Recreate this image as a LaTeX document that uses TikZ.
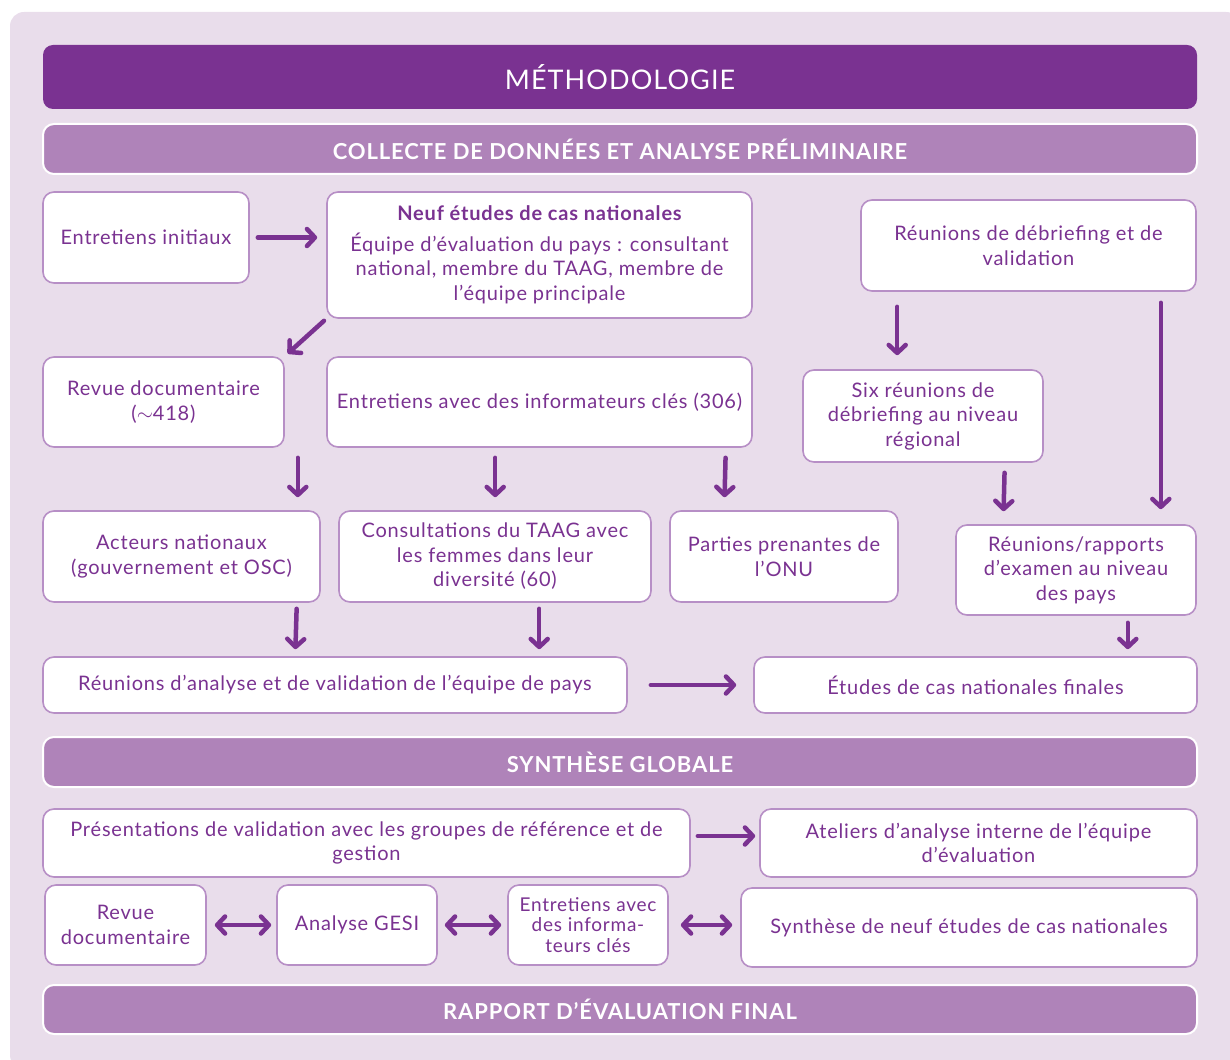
\documentclass[tikz,border=0pt]{standalone}
\usepackage{fontspec}
\setmainfont{Lato}[LetterSpace=4]
\usetikzlibrary{arrows.meta,calc}
\definecolor{violetfonce}{HTML}{7A3291}
\definecolor{violetbar}{HTML}{AF83B9}
\definecolor{violetbord}{HTML}{B78FC6}
\definecolor{fondlilas}{HTML}{E9DDEB}
\tikzset{
  boite/.style={draw=violetbord, line width=1.6pt, fill=white, rounded corners=11pt,
    text=violetfonce, align=center, inner sep=0pt,
    font=\fontsize{20}{24.5}\selectfont},
  bandeau/.style={draw=white, line width=2pt, fill=violetbar, rounded corners=11pt,
    text=white, align=center, minimum width=1154, minimum height=50,
    font=\fontsize{22}{26}\selectfont\bfseries},
  fleche/.style={draw=violetfonce, line width=4.5pt, line cap=round,
    -{Straight Barb[length=8pt,width=17pt,line cap=round,line join=round]}},
  double fleche/.style={fleche, {Straight Barb[length=8pt,width=17pt,line cap=round,line join=round]}-{Straight Barb[length=8pt,width=17pt,line cap=round,line join=round]}}
}
\begin{document}
\begin{tikzpicture}[x=1pt,y=-1pt]
\useasboundingbox (0,0) rectangle (1230,1059);
\fill[fondlilas, rounded corners=14pt] (10,12) rectangle (1240,1069);

% titre et bandeaux
\node[fill=violetfonce, rounded corners=10pt, text=white, minimum width=1154,
  minimum height=64, font=\fontsize{27}{30}\selectfont] (titre) at (620,77) {MÉTHODOLOGIE};
\node[bandeau] (collecte) at (620,149) {COLLECTE DE DONNÉES ET ANALYSE PRÉLIMINAIRE};
\node[bandeau] (synthese) at (620,762) {SYNTHÈSE GLOBALE};
\node[bandeau, minimum height=49] (rapport) at (620,1009.5) {RAPPORT D’ÉVALUATION FINAL};

% collecte
\node[boite, minimum width=206, minimum height=91] (initiaux) at (146,237.5) {Entretiens initiaux};
\node[boite, minimum width=425, minimum height=126] (neuf) at (539.5,255)
  {{\bfseries Neuf études de cas nationales}\\[6pt]Équipe d’évaluation du pays : consultant\\national, membre du TAAG, membre de\\l’équipe principale};
\node[boite, minimum width=335, minimum height=91] (debrief) at (1028.5,245.5) {Réunions de débriefing et de\\validation};
\node[boite, minimum width=241, minimum height=90] (revue) at (163.5,402) {Revue documentaire\\($\sim$418)};
\node[boite, minimum width=425, minimum height=90] (informateurs) at (539.5,402) {Entretiens avec des informateurs clés (306)};
\node[boite, minimum width=240, minimum height=92] (six) at (923,416) {Six réunions de\\débriefing au niveau\\régional};
\node[boite, minimum width=277, minimum height=91] (acteurs) at (181.5,556.5) {Acteurs nationaux\\(gouvernement et OSC)};
\node[boite, minimum width=312, minimum height=91] (consult) at (495,556.5) {Consultations du TAAG avec\\les femmes dans leur\\diversité (60)};
\node[boite, minimum width=228, minimum height=91] (onu) at (784,556.5) {Parties prenantes de\\l’ONU};
\node[boite, minimum width=240, minimum height=90] (pays) at (1076,570) {Réunions/rapports\\d’examen au niveau\\des pays};
\node[boite, minimum width=584, minimum height=56] (validpays) at (335,685) {Réunions d’analyse et de validation de l’équipe de pays};
\node[boite, minimum width=443, minimum height=56] (finales) at (975.5,685) {Études de cas nationales finales};

% synthese
\node[boite, minimum width=647, minimum height=68] (presentations) at (366.5,843) {Présentations de validation avec les groupes de référence et de\\gestion};
\node[boite, minimum width=437, minimum height=68] (ateliers) at (978.5,843) {Ateliers d’analyse interne de l’équipe\\d’évaluation};
\node[boite, minimum width=161, minimum height=80] (revuedoc) at (125.5,925) {Revue\\documentaire};
\node[boite, minimum width=160, minimum height=80] (gesi) at (357,925) {Analyse GESI};
\node[boite, minimum width=160, minimum height=80, font=\fontsize{19}{20.5}\selectfont] (cles) at (588,925) {Entretiens avec\\des informa-\\teurs clés};
\node[boite, minimum width=456, minimum height=79] (neufsynth) at (969,927.5) {Synthèse de neuf études de cas nationales};

% fleches
\draw[fleche, shorten <=8pt, shorten >=9pt] (initiaux.east) -- (initiaux.east -| neuf.west);
\draw[fleche, shorten <=3pt, shorten >=4pt] (neuf.south west) -- (revue.north east);
\draw[fleche, shorten <=15pt, shorten >=14pt] ($(debrief.south west)+(37,0)$) -- ($(six.north west)+(95,0)$);
\draw[fleche, shorten <=11pt, shorten >=15pt] ($(debrief.south east)+(-36,0)$) -- ($(pays.north east)+(-36,0)$);
\draw[fleche, shorten <=10pt, shorten >=13pt] ($(revue.south east)+(13,0)$) -- ($(acteurs.north east)+(-23,0)$);
\draw[fleche, shorten <=10pt, shorten >=13pt] ($(informateurs.south west)+(169,0)$) -- ($(consult.north west)+(157,0)$);
\draw[fleche, shorten <=10pt, shorten >=13pt] ($(informateurs.south east)+(-27,0)$) -- ($(onu.north west)+(55,0)$);
\draw[fleche, shorten <=10pt, shorten >=13pt] ($(six.south east)+(-39,0)$) -- ($(pays.north west)+(48,0)$);
\draw[fleche, shorten <=6pt, shorten >=7pt] ($(acteurs.south east)+(-24,0)$) -- ($(validpays.north west)+(253,0)$);
\draw[fleche, shorten <=6pt, shorten >=7pt] ($(consult.south west)+(201,0)$) -- ($(validpays.north west)+(497,0)$);
\draw[fleche, shorten <=7pt, shorten >=7pt] ($(pays.south east)+(-69,0)$) -- ($(finales.north east)+(-70,0)$);
\draw[fleche, shorten <=23pt, shorten >=17pt] (validpays.east) -- (finales.west);
\draw[fleche, shorten <=7pt, shorten >=4pt] ([yshift=7pt]presentations.east) -- ([yshift=7pt]ateliers.west);
\draw[double fleche, shorten <=8pt, shorten >=5pt] (revuedoc.east) -- (gesi.west);
\draw[double fleche, shorten <=7pt, shorten >=6pt] (gesi.east) -- (cles.west);
\draw[double fleche, shorten <=12pt, shorten >=8pt] (cles.east) -- (cles.east -| neufsynth.west);
\end{tikzpicture}
\end{document}
